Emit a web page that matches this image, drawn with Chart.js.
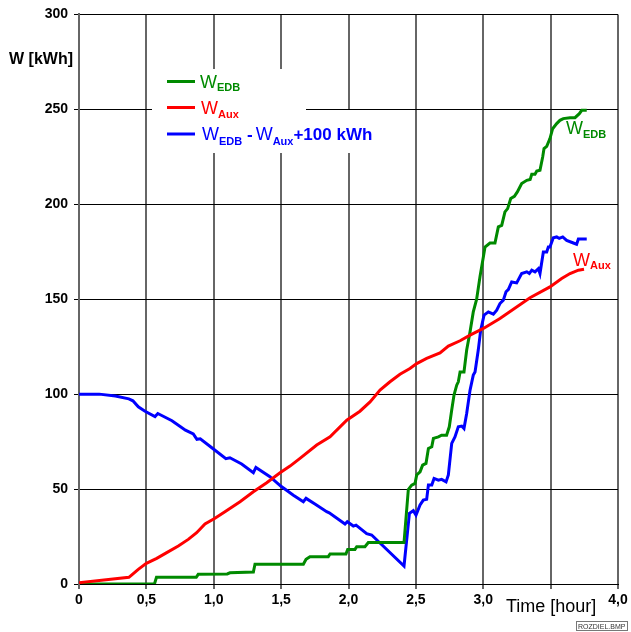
<!DOCTYPE html>
<html>
<head>
<meta charset="utf-8">
<script src="https://cdn.jsdelivr.net/npm/chart.js@4/dist/chart.umd.min.js"></script>
<style>
  body { margin: 0; background: #fff; }
  canvas { display: block; }
</style>
</head>
<body>
<canvas id="grafico" width="631" height="632"></canvas>
<script>
const xTickLabels = ["0", "0,5", "1,0", "1,5", "2,0", "2,5", "3,0", "", "4,0"];
const yTickLabels = ["0", "50", "100", "150", "200", "250", "300"];

// W_EDB
const timeEdb = [0, 0.56, 0.575, 0.87, 0.885, 1.10, 1.12, 1.294, 1.306, 1.665, 1.685, 1.714, 1.85, 1.863, 1.981, 1.994,
  2.048, 2.061, 2.122, 2.147, 2.412, 2.444, 2.469, 2.494, 2.506, 2.531, 2.55, 2.575, 2.593, 2.618, 2.63, 2.667, 2.691,
  2.728, 2.748, 2.766, 2.783, 2.803, 2.815, 2.828, 2.857, 2.877, 2.902, 2.926, 2.951, 2.976, 3.001, 3.013, 3.05, 3.087,
  3.112, 3.137, 3.161, 3.181, 3.204, 3.231, 3.253, 3.285, 3.323, 3.348, 3.36, 3.384, 3.397, 3.421, 3.441, 3.451, 3.471,
  3.495, 3.515, 3.545, 3.569, 3.594, 3.644, 3.681, 3.713, 3.731, 3.768];
const wEdb = [0, 0, 3.5, 3.5, 5.1, 5.3, 5.9, 6.3, 10.4, 10.4, 13, 14.4, 14.4, 15.8, 15.8, 18.2,
  18.2, 19.6, 19.6, 21.8, 21.8, 49.8, 52.1, 53, 57.4, 59.1, 62.6, 63.5, 71.4, 72.3, 76.7, 77.5, 78.4,
  78.4, 82.8, 91.6, 99.5, 104.7, 106.5, 111.7, 111.7, 123.2, 132.8, 143.3, 150, 162, 172.3, 177.5, 179.6, 179.6,
  188.1, 188.9, 196, 197.7, 203, 204.2, 206.5, 210.9, 212.6, 213, 215.8, 215.8, 217.5, 217.9, 224.9, 229.3, 230.5,
  234.6, 239.8, 242.5, 244.2, 245.1, 245.6, 245.6, 247.7, 249.5, 249.5];

// W_Aux
const timeAux = [0, 0.37, 0.39, 0.44, 0.50, 0.577, 0.651, 0.737, 0.811, 0.873, 0.935, 1.009, 1.083, 1.195, 1.294,
  1.393, 1.492, 1.566, 1.64, 1.764, 1.863, 1.987, 2.085, 2.16, 2.234, 2.308, 2.382, 2.456, 2.506, 2.58, 2.679, 2.741,
  2.828, 2.902, 3.001, 3.124, 3.347, 3.495, 3.582, 3.644, 3.706, 3.748];
const wAux = [0.7, 3.5, 4.7, 7.7, 10.9, 13.5, 16.5, 20, 23.5, 27, 31.6, 34.6, 38.1, 43.3, 48.6,
  53.3, 58.6, 62.1, 66.2, 73.2, 77.5, 86.3, 91, 95.9, 102.1, 106.5, 110.5, 113.5, 116.1, 118.8, 121.7, 125.3,
  128.1, 131.1, 134.6, 139.8, 150.8, 156.5, 160.9, 163.5, 165.3, 165.8];

// W_EDB - W_Aux + 100 kWh
const timeDiff = [0, 0.15, 0.27, 0.37, 0.40, 0.44, 0.49, 0.564, 0.585, 0.69, 0.79, 0.848, 0.875, 0.90, 1.00, 1.09,
  1.12, 1.207, 1.294, 1.313, 1.417, 1.497, 1.591, 1.665, 1.685, 1.751, 1.838, 1.857, 1.974, 1.991, 2.036, 2.056,
  2.135, 2.172, 2.412, 2.452, 2.481, 2.501, 2.531, 2.555, 2.58, 2.593, 2.618, 2.635, 2.667, 2.691, 2.724, 2.741,
  2.766, 2.79, 2.815, 2.84, 2.857, 2.877, 2.902, 2.926, 2.939, 2.963, 2.981, 3.006, 3.038, 3.075, 3.1, 3.124, 3.149,
  3.169, 3.186, 3.211, 3.248, 3.285, 3.323, 3.342, 3.36, 3.384, 3.409, 3.421, 3.446, 3.471, 3.483, 3.495, 3.52,
  3.545, 3.564, 3.59, 3.619, 3.669, 3.693, 3.706, 3.768];
const wDiff = [100, 100, 99, 97.5, 96.5, 93.3, 91, 88.2, 89.8, 86, 81, 79, 76.2, 76.5, 71, 66,
  66.5, 63.2, 58.6, 61.4, 56.5, 51.6, 46.8, 43.3, 45.1, 42.1, 38.1, 37.5, 31.6, 32.8, 30.5, 31,
  26.5, 25.8, 9.5, 37.2, 38.6, 36.3, 41.6, 44.2, 44.6, 52.1, 52.1, 55.6, 54.7, 55.1, 53.8, 57.4,
  74.1, 77.5, 82.8, 83.2, 81.9, 89.8, 102.1, 110, 111.7, 123.2, 133.7, 141.6, 143.3, 142.1, 144.2, 147.7, 149.5,
  153.9, 155.1, 159.1, 158.6, 163.5, 164.4, 163.5, 165.3, 164.4, 166.1, 163.5, 174.9, 174.9, 177.5, 177.5, 182.4,
  182.8, 182, 182.8, 181, 179.6, 178.9, 181.7, 181.7];

const FONTE = "'Liberation Sans', Arial, sans-serif";
const VERDE = "#008a00";
const VERMELHO = "#ff0000";
const AZUL = "#0000ff";

function pontos(tempos, valores) {
  return tempos.map((t, i) => ({ x: t, y: valores[i] }));
}

// texto com indice: partes = [texto, fonte, deslocamento vertical]
function textoIndice(ctx, x, y, partes, cor) {
  ctx.fillStyle = cor;
  ctx.textBaseline = "alphabetic";
  ctx.textAlign = "left";
  partes.forEach(p => {
    ctx.font = p[1];
    ctx.fillText(p[0], x, y + p[2]);
    x += ctx.measureText(p[0]).width;
  });
}

const W = "18px " + FONTE;
const SUB = "bold 11px " + FONTE;
const NEG = "bold 17px " + FONTE;

const textos = {
  id: "textos",
  afterDraw(chart) {
    const ctx = chart.ctx;
    ctx.save();

    // fundo da legenda
    ctx.fillStyle = "#fff";
    ctx.fillRect(152, 69, 154, 84);
    ctx.fillRect(306, 110, 70, 43);

    const linhas = [[VERDE, 81.5], [VERMELHO, 107.5], [AZUL, 134]];
    ctx.lineWidth = 3;
    linhas.forEach(l => {
      ctx.strokeStyle = l[0];
      ctx.beginPath();
      ctx.moveTo(167, l[1]);
      ctx.lineTo(195, l[1]);
      ctx.stroke();
    });

    textoIndice(ctx, 200, 88, [["W", W, 0], ["EDB", SUB, 3]], VERDE);
    textoIndice(ctx, 201, 113.5, [["W", W, 0], ["Aux", SUB, 4]], VERMELHO);
    textoIndice(ctx, 202, 140, [["W", W, 0], ["EDB", SUB, 5], [" -", NEG, 0], [" ", SUB, 0], ["W", W, 0], ["Aux", SUB, 5], ["+100 kWh", NEG, 0]], AZUL);

    // rotulos junto das curvas
    textoIndice(ctx, 566, 134, [["W", W, 0], ["EDB", SUB, 4]], VERDE);
    textoIndice(ctx, 573, 265.5, [["W", W, 0], ["Aux", SUB, 3]], VERMELHO);

    // titulos dos eixos
    ctx.fillStyle = "#000";
    ctx.font = "bold 16px " + FONTE;
    ctx.fillText("W [kWh]", 9, 64);
    ctx.font = "18px " + FONTE;
    ctx.fillText("Time [hour]", 506, 612);

    // carimbo
    ctx.strokeStyle = "#777";
    ctx.lineWidth = 1;
    ctx.strokeRect(576.5, 621.5, 51, 9);
    ctx.font = "7px " + FONTE;
    ctx.fillStyle = "#333";
    ctx.fillText("ROZDIEL.BMP", 578, 629);

    ctx.restore();
  }
};

const serie = (dados, cor) => ({
  data: dados,
  borderColor: cor,
  borderWidth: 3,
  pointRadius: 0,
  tension: 0,
  fill: false
});

new Chart(document.getElementById("grafico"), {
  type: "line",
  data: {
    datasets: [
      serie(pontos(timeAux, wAux), VERMELHO),
      serie(pontos(timeEdb, wEdb), VERDE),
      serie(pontos(timeDiff, wDiff), AZUL)
    ]
  },
  options: {
    responsive: false,
    animation: false,
    layout: { padding: { top: 14, right: 13, left: 0, bottom: 0 } },
    plugins: {
      legend: { display: false },
      tooltip: { enabled: false }
    },
    scales: {
      x: {
        type: "linear",
        min: 0,
        max: 4,
        afterFit(s) { s.height = 48; },
        afterBuildTicks(s) { s.ticks = xTickLabels.map((_, i) => ({ value: i * 0.5 })); },
        ticks: {
          autoSkip: false,
          maxRotation: 0,
          padding: 3,
          color: "#000",
          font: { family: FONTE, size: 14, weight: "bold" },
          callback: (v, i) => xTickLabels[i]
        },
        grid: { color: "#666", lineWidth: 2, tickLength: 5 },
        border: { color: "#000", width: 1 }
      },
      y: {
        min: 0,
        max: 300,
        afterFit(s) { s.width = 79; },
        afterBuildTicks(s) { s.ticks = yTickLabels.map((_, i) => ({ value: i * 50 })); },
        ticks: {
          padding: 6,
          color: "#000",
          font: { family: FONTE, size: 14, weight: "bold" },
          callback: (v, i) => yTickLabels[i]
        },
        grid: { color: "#000", lineWidth: 1, tickLength: 5 },
        border: { color: "#666", width: 2 }
      }
    }
  },
  plugins: [textos]
});
</script>
</body>
</html>
